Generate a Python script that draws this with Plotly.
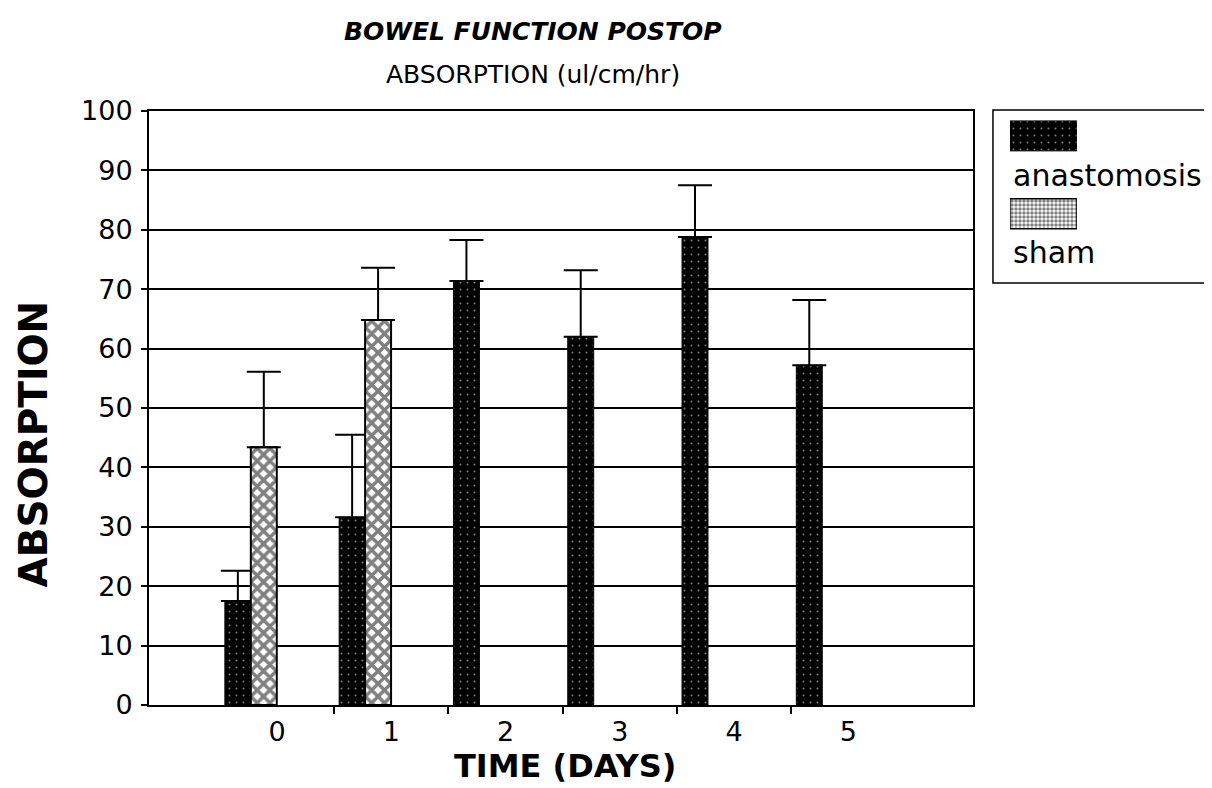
import plotly.graph_objects as go

# ---- data ----
days = [0, 1, 2, 3, 4, 5]
day_labels = ["0", "1", "2", "3", "4", "5"]
anastomosis = [17.5, 31.6, 71.4, 62.0, 78.8, 57.2]
anastomosis_err = [5.1, 13.9, 6.9, 11.2, 8.7, 11.0]
sham = [43.4, 64.8, None, None, None, None]
sham_err = [12.7, 8.8, None, None, None, None]
y_ticks = [0, 10, 20, 30, 40, 50, 60, 70, 80, 90, 100]
category_bounds = [0.5, 1.5, 2.5, 3.5, 4.5]

FONT = "DejaVu Sans"
BAR_W = 0.227

fig = go.Figure()

fig.add_trace(go.Bar(
    x=days, y=anastomosis, name="anastomosis",
    width=BAR_W, offset=-0.456,
    marker=dict(color="black", line=dict(color="black", width=1),
                pattern=dict(shape=".", fgcolor="white", bgcolor="black",
                             size=7, solidity=0.06)),
    error_y=dict(type="data", symmetric=False, array=anastomosis_err,
                 arrayminus=[0] * len(days), color="black",
                 thickness=2, width=17),
    showlegend=False, xaxis="x", yaxis="y",
))
fig.add_trace(go.Bar(
    x=days, y=sham, name="sham",
    width=BAR_W, offset=-0.229,
    marker=dict(color="white", line=dict(color="black", width=2),
                pattern=dict(shape="x", fgcolor="black", bgcolor="white",
                             size=9, solidity=0.62)),
    error_y=dict(type="data", symmetric=False, array=sham_err,
                 arrayminus=[0] * len(days), color="black",
                 thickness=2, width=17),
    showlegend=False, xaxis="x", yaxis="y",
))

# ---- legend swatches drawn on a small auxiliary axis ----
legend_names = ["sham", "anastomosis"]
fig.add_trace(go.Bar(
    x=[1], y=["anastomosis"], orientation="h", width=0.385,
    marker=dict(color="black", line=dict(color="black", width=1),
                pattern=dict(shape=".", fgcolor="white", bgcolor="black",
                             size=7, solidity=0.06)),
    showlegend=False, xaxis="x3", yaxis="y3", hoverinfo="skip",
))
fig.add_trace(go.Bar(
    x=[1], y=["sham"], orientation="h", width=0.385,
    marker=dict(color="white", line=dict(color="black", width=1.5),
                pattern=dict(shape=".", fgcolor="black", bgcolor="white",
                             size=4, solidity=0.6)),
    showlegend=False, xaxis="x3", yaxis="y3", hoverinfo="skip",
))

fig.update_layout(
    width=1212, height=788,
    margin=dict(l=141, r=9, t=103, b=91),
    paper_bgcolor="white", plot_bgcolor="white",
    font=dict(family=FONT, color="black", size=27),
    barmode="group",
    xaxis=dict(
        domain=[0, 0.7759], range=[-1.12, 6.09],
        tickmode="array", tickvals=days, ticktext=day_labels,
        ticks="", ticklabelstandoff=2,
        tickfont=dict(size=27),
        showline=True, linecolor="black", linewidth=2, mirror=True,
        showgrid=False, zeroline=False,
        minor=dict(tickmode="array", tickvals=category_bounds, ticks="outside",
                   ticklen=7, tickwidth=2, tickcolor="black", showgrid=False),
    ),
    yaxis=dict(
        range=[0, 100], tickmode="array", tickvals=y_ticks,
        ticks="outside", ticklen=6, tickwidth=2, tickcolor="black",
        ticklabelstandoff=3, tickfont=dict(size=27),
        showline=True, linecolor="black", linewidth=2, mirror=True,
        showgrid=True, gridcolor="black", gridwidth=1.5, zeroline=False,
    ),
    xaxis3=dict(domain=[0.8107, 0.8738], range=[0, 1], visible=False,
                anchor="y3", fixedrange=True),
    yaxis3=dict(domain=[0.76, 1.0], range=[-0.513, 1.32], visible=False,
                anchor="x3", type="category", categoryarray=legend_names,
                fixedrange=True),
    shapes=[dict(type="rect", xref="paper", yref="paper",
                 x0=0.7947, x1=1.0, y0=0.7104, y1=1.0017,
                 line=dict(color="black", width=1.5), fillcolor="rgba(0,0,0,0)",
                 layer="below")],
    annotations=[
        dict(text="<b><i>BOWEL FUNCTION POSTOP</i></b>", x=0.3616, y=1.134,
             xref="paper", yref="paper", showarrow=False,
             xanchor="center", yanchor="middle", font=dict(size=25)),
        dict(text="ABSORPTION (ul/cm/hr)", x=0.3616, y=1.062,
             xref="paper", yref="paper", showarrow=False,
             xanchor="center", yanchor="middle", font=dict(size=25)),
        dict(text="<b>TIME (DAYS)</b>", x=0.392, y=-0.103,
             xref="paper", yref="paper", showarrow=False,
             xanchor="center", yanchor="middle", font=dict(size=32)),
        dict(text="<b>ABSORPTION</b>", x=-0.109, y=0.439, textangle=-90,
             xref="paper", yref="paper", showarrow=False,
             xanchor="center", yanchor="middle", font=dict(size=39)),
        dict(text="anastomosis", x=0.8117, y=0.892,
             xref="paper", yref="paper", showarrow=False,
             xanchor="left", yanchor="middle", font=dict(size=30)),
        dict(text="sham", x=0.8117, y=0.7626,
             xref="paper", yref="paper", showarrow=False,
             xanchor="left", yanchor="middle", font=dict(size=30)),
    ],
)

fig.write_html("out.html")
